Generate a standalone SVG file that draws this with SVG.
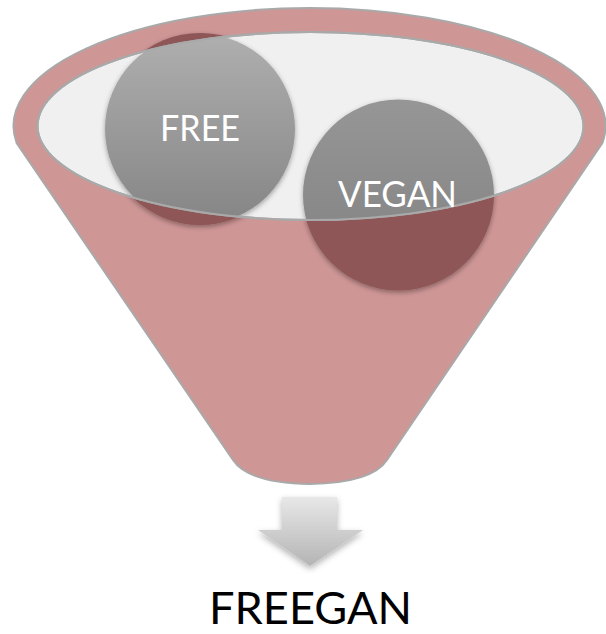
<svg xmlns="http://www.w3.org/2000/svg" width="606" height="634" viewBox="0 0 606 634">
<defs>
<style>
.funnel{fill:#cf9696;stroke:#a9a9a9;stroke-width:2}
.mouth{fill:#f0f0f0;stroke:#a9a9a9;stroke-width:2}
.rim{fill:none;stroke:#a9a9a9;stroke-width:2}
.under{fill:#8e5656}
.lbl{font-family:Lato,"Open Sans","Liberation Sans",sans-serif;fill:#ffffff;text-anchor:middle}
.big{font-family:Lato,"Open Sans","Liberation Sans",sans-serif;fill:#000000;text-anchor:middle}
</style>
<linearGradient id="gFree" x1="0" y1="0" x2="0" y2="1">
<stop offset="0" stop-color="#afafaf"/>
<stop offset="1" stop-color="#858585"/>
</linearGradient>
<linearGradient id="gVegan" x1="0" y1="0" x2="0" y2="1">
<stop offset="0" stop-color="#969696"/>
<stop offset="1" stop-color="#808080"/>
</linearGradient>
<linearGradient id="gArrow" x1="0" y1="0" x2="0" y2="1">
<stop offset="0" stop-color="#e8e8e8"/>
<stop offset="1" stop-color="#b4b4b4"/>
</linearGradient>
<clipPath id="mouthClip">
<ellipse cx="310.5" cy="126" rx="273" ry="94"/>
</clipPath>
<filter id="soft" x="-20%" y="-20%" width="140%" height="140%">
<feDropShadow dx="0" dy="2" stdDeviation="2.5" flood-color="#000" flood-opacity="0.35"/>
</filter>
<filter id="arrowShadow" x="-30%" y="-30%" width="160%" height="160%">
<feDropShadow dx="0" dy="3" stdDeviation="3" flood-color="#000" flood-opacity="0.3"/>
</filter>
</defs>

<g id="funnel">
<path class="funnel" d="M16.6,143 A296,118 0 1 1 602.4,143 L387,460 Q372,483 310,484 Q248,483 233,460 Z"/>
</g>

<g id="free-under">
<circle class="under" cx="200" cy="129" r="96" filter="url(#soft)"/>
</g>
<g id="vegan-under">
<circle class="under" cx="398.5" cy="195" r="95.5" filter="url(#soft)"/>
</g>

<g id="mouth">
<ellipse class="mouth" cx="310.5" cy="126" rx="273" ry="94"/>
</g>

<g clip-path="url(#mouthClip)">
<g id="free">
<circle cx="200" cy="129" r="95" fill="url(#gFree)" filter="url(#soft)"/>
</g>
<g id="vegan">
<circle cx="398.5" cy="195" r="95.5" fill="url(#gVegan)" filter="url(#soft)"/>
</g>
</g>

<ellipse class="rim" cx="310.5" cy="126" rx="273" ry="94"/>

<text class="lbl" x="200" y="140.5" font-size="36" textLength="80" lengthAdjust="spacingAndGlyphs">FREE</text>
<text class="lbl" x="397.5" y="207" font-size="37" textLength="119" lengthAdjust="spacingAndGlyphs">VEGAN</text>

<g id="connectors">
<path d="M282,497 H337 V530 H363 L310,566 L258,530 H282 Z" fill="url(#gArrow)" filter="url(#arrowShadow)"/>
</g>

<g id="result">
<text class="big" x="310.5" y="624" font-size="45" textLength="203" lengthAdjust="spacingAndGlyphs">FREEGAN</text>
</g>
</svg>
